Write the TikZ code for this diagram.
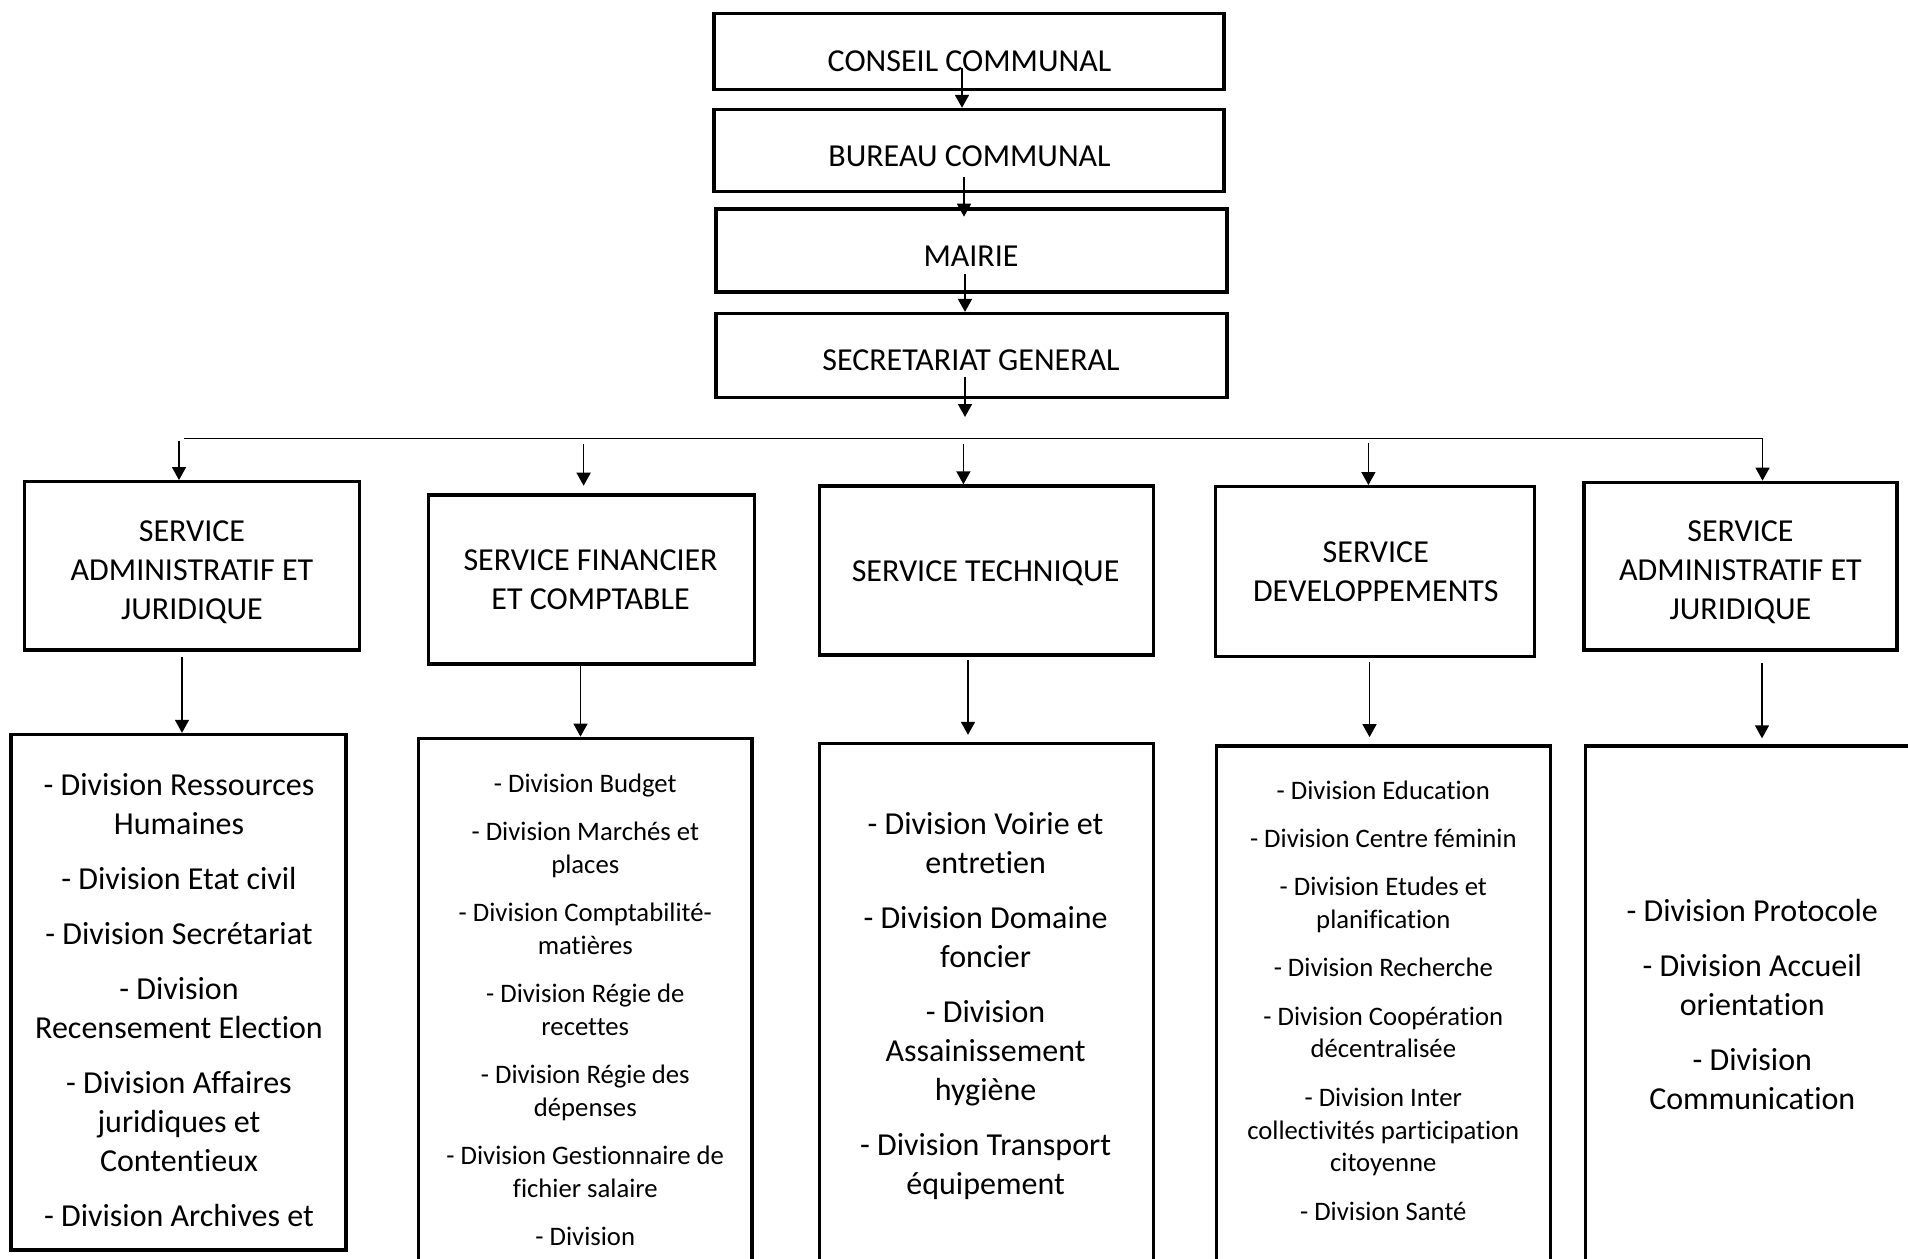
\documentclass[tikz,border=0pt]{standalone}
\usepackage{fontspec}
\setmainfont{Carlito}[Ligatures={NoCommon}]
\usetikzlibrary{arrows.meta}
\newcommand{\fbigtxt}{\fontsize{32}{39}\selectfont}
\newcommand{\fsmalltxt}{\fontsize{26.7}{32.9}\selectfont}
\begin{document}
\begin{tikzpicture}[x=1pt,y=-1pt,
  box/.style={draw=black, line width=3.4pt, inner sep=0pt, fill=none},
  txt/.style={inner sep=0pt, anchor=base, text=black, font=\fbigtxt},
  stxt/.style={inner sep=0pt, anchor=base, text=black, font=\fsmalltxt},
  arr/.style={draw=black, line width=1.6pt, -{Triangle[length=13pt,width=14pt]}},
  conn/.style={draw=black, line width=1.6pt}
]
\useasboundingbox (0,0) rectangle (1908,1258);
\fill[white] (0,0) rectangle (1908,1258);
\clip (0,0) rectangle (1908,1258);

% top chain
\node[box, minimum width=510pt, minimum height=76pt] (conseil) at (969,51.3) {};
\node[box, minimum width=510pt, minimum height=82pt] (bureau) at (969,150.5) {};
\node[box, minimum width=511pt, minimum height=83pt] (mairie) at (971.5,250.5) {};
\node[box, minimum width=511pt, minimum height=84pt] (secgen) at (971.5,355.6) {};
\node[txt] (conseilt) at (969.5,71.7) {CONSEIL COMMUNAL};
\node[txt] (bureaut) at (969.5,166.7) {BUREAU COMMUNAL};
\node[txt] (mairiet) at (971,266.7) {MAIRIE};
\node[txt] (secgent) at (971,370.7) {SECRETARIAT GENERAL};

\coordinate (a1s) at (962,68);
\coordinate (a2s) at (964,177);
\coordinate (a3s) at (965,274);
\coordinate (a4s) at (965,376.7);
\coordinate (a4e) at (965,417);
\draw[arr] (a1s) -- (a1s |- bureau.north);
\draw[arr, shorten >=-9.4pt] (a2s) -- (a2s |- mairie.north);
\draw[arr] (a3s) -- (a3s |- secgen.north);
\draw[arr] (a4s) -- (a4e);

% services
\node[box, minimum width=335pt, minimum height=168.3pt] (s1) at (192,565.9) {};
\node[box, minimum width=325.7pt, minimum height=169pt] (s2) at (591.6,579.5) {};
\node[box, minimum width=334pt, minimum height=169pt] (s3) at (986.4,570.5) {};
\node[box, minimum width=319pt, minimum height=170pt] (s4) at (1375.2,571.7) {};
\node[box, minimum width=313pt, minimum height=167.7pt] (s5) at (1740.5,566.2) {};
\node[txt] (s1t) at (192,541.7) {\begin{tabular}[t]{@{}c@{}}SERVICE\\ADMINISTRATIF ET\\JURIDIQUE\end{tabular}};
\node[txt] (s2t) at (590.6,570.7) {\begin{tabular}[t]{@{}c@{}}SERVICE FINANCIER\\ET COMPTABLE\end{tabular}};
\node[txt] (s3t) at (985.6,581.7) {SERVICE TECHNIQUE};
\node[txt] (s4t) at (1375.8,562.7) {\begin{tabular}[t]{@{}c@{}}SERVICE\\DEVELOPPEMENTS\end{tabular}};
\node[txt] (s5t) at (1740.5,541.7) {\begin{tabular}[t]{@{}c@{}}SERVICE\\ADMINISTRATIF ET\\JURIDIQUE\end{tabular}};

% distribution line
\coordinate (hl) at (184,438.3);
\coordinate (hr) at (1762.5,438.3);
\coordinate (l1) at (179,440.7);
\coordinate (l2) at (583.6,444);
\coordinate (l3) at (963.4,444);
\coordinate (l4) at (1368.4,442.7);
\draw[arr] (hl) -- (hr) -- (hr |- s5.north);
\draw[arr] (l1) -- (l1 |- s1.north);
\draw[arr, shorten >=7.6pt] (l2) -- (l2 |- s2.north);
\draw[arr] (l3) -- (l3 |- s3.north);
\draw[arr] (l4) -- (l4 |- s4.north);

% divisions
\node[box, minimum width=335pt, minimum height=515.5pt] (d1) at (178.5,992.25) {};
\node[box, minimum width=333.8pt, minimum height=536.7pt] (d2) at (585.1,1006.65) {};
\node[box, minimum width=333.8pt, minimum height=531.5pt] (d3) at (986.5,1009.25) {};
\node[box, minimum width=334pt, minimum height=529.2pt] (d4) at (1383.5,1010.4) {};
\node[box, minimum width=339.5pt, minimum height=529pt] (d5) at (1755.25,1010.5) {};

\coordinate (b1) at (182,657.3);
\coordinate (b2) at (580.5,664);
\coordinate (b3) at (968,660);
\coordinate (b4) at (1369.5,662.3);
\coordinate (b5) at (1762,662.7);
\draw[arr] (b1) -- (b1 |- d1.north);
\draw[arr] (b2) -- (b2 |- d2.north);
\draw[arr, shorten >=7pt] (b3) -- (b3 |- d3.north);
\draw[arr, shorten >=7pt] (b4) -- (b4 |- d4.north);
\draw[arr, shorten >=6pt] (b5) -- (b5 |- d5.north);

\node[txt] (d1t) at (179,795) {\begin{tabular}[t]{@{}c@{}}- Division Ressources\\Humaines\\[16pt]- Division Etat civil\\[16pt]- Division Secrétariat\\[16pt]- Division\\Recensement Election\\[16pt]- Division Affaires\\juridiques et\\Contentieux\\[16pt]- Division Archives et\end{tabular}};
\node[stxt] (d2t) at (585.3,792) {\begin{tabular}[t]{@{}c@{}}- Division Budget\\[15.3pt]- Division Marchés et\\places\\[15.3pt]- Division Comptabilité-\\matières\\[15.3pt]- Division Régie de\\recettes\\[15.3pt]- Division Régie des\\dépenses\\[15.3pt]- Division Gestionnaire de\\fichier salaire\\[15.3pt]- Division\end{tabular}};
\node[txt] (d3t) at (985.6,834.5) {\begin{tabular}[t]{@{}c@{}}- Division Voirie et\\entretien\\[16pt]- Division Domaine\\foncier\\[16pt]- Division\\Assainissement\\hygiène\\[16pt]- Division Transport\\équipement\end{tabular}};
\node[stxt] (d4t) at (1383.3,799.3) {\begin{tabular}[t]{@{}c@{}}- Division Education\\[15.3pt]- Division Centre féminin\\[15.3pt]- Division Etudes et\\planification\\[15.3pt]- Division Recherche\\[15.3pt]- Division Coopération\\décentralisée\\[15.3pt]- Division Inter\\collectivités participation\\citoyenne\\[15.3pt]- Division Santé\end{tabular}};
\node[txt] (d5t) at (1752.3,921.4) {\begin{tabular}[t]{@{}c@{}}- Division Protocole\\[16pt]- Division Accueil\\orientation\\[16pt]- Division\\Communication\end{tabular}};
\end{tikzpicture}
\end{document}
